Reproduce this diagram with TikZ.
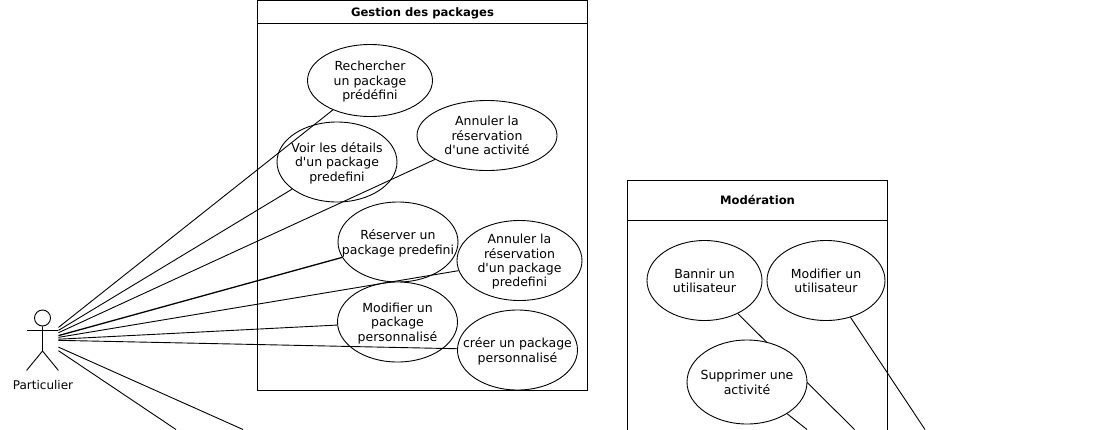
\documentclass[tikz,border=0pt]{standalone}
\usepackage{fontspec}
\setmainfont{DejaVu Sans}
\usetikzlibrary{shapes.geometric}
\newcommand{\cas}[1]{\raisebox{-5pt}[0pt][0pt]{\makebox[0pt]{\begin{tabular}{@{}c@{}}#1\end{tabular}}}}
\tikzset{
  usecase/.style={ellipse,draw,fill=white,inner sep=0pt,minimum width=120pt,minimum height=80pt,font=\fontsize{12.5}{14.4}\selectfont},
  boite/.style={rectangle,draw,inner sep=0pt},
  titre/.style={boite,text height=8pt,text depth=0pt,font=\fontsize{11.6}{14}\selectfont\bfseries}
}
\begin{document}
\begin{tikzpicture}[x=1pt,y=-1pt,line width=0.9pt,font=\fontsize{12}{14}\selectfont]
\useasboundingbox (0,0) rectangle (1109,429);
\clip (0,0) rectangle (1109,429);
\node [boite,minimum width=330pt,minimum height=390pt] (gestion) at (422.5,195.5) {};
\node [titre,minimum width=330pt,minimum height=23pt,anchor=north] (gestionTitre) at (gestion.north) {Gestion des packages};
\node [usecase,minimum width=125pt,minimum height=72pt] (rechercher) at (370,80.5) {\cas{Rechercher\\un package\\prédéfini}};
\node [usecase] (voir) at (337,162) {\cas{Voir les détails\\d\textquotesingle un package\\predefini}};
\node [usecase,minimum width=140pt,minimum height=70pt] (annulerActivite) at (487,135.5) {\cas{Annuler la\\réservation\\d\textquotesingle une activité}};
\node [usecase] (reserver) at (398,242) {\cas{Réserver un\\package predefini}};
\node [usecase,minimum width=125pt] (annulerPackage) at (519.5,260.5) {\cas{Annuler la\\réservation\\d\textquotesingle un package\\predefini}};
\node [usecase] (modifierPackage) at (397.5,322) {\cas{Modifier un\\package\\personnalisé}};
\node [usecase] (creer) at (517.5,350) {\cas{créer un package\\personnalisé}};

\node [rectangle,inner sep=0pt,minimum width=31pt,minimum height=60pt] (particulier) at (42.5,340) {};
\node [circle,draw,inner sep=0pt,minimum size=16pt] (tete) at (42.5,318) {};
\node [inner sep=0pt,anchor=north] (particulierNom) at (43,380) {Particulier};
\coordinate (brasG) at (27,330);
\coordinate (brasD) at (58,330);
\coordinate (bassin) at (42.5,351);
\draw (tete) -- (bassin) -- (particulier.south west);
\draw (bassin) -- (particulier.south east);
\draw (brasG) -- (brasD);

\coordinate (sortieA) at (243,429.5);
\coordinate (sortieB) at (176,429.5);
\draw (particulier) -- (rechercher);
\draw (particulier) -- (voir);
\draw (particulier) -- (annulerActivite);
\draw [line width=1.3pt] (particulier) -- (reserver);
\draw (particulier) -- (annulerPackage);
\draw (particulier) -- (modifierPackage);
\draw (particulier) -- (creer);
\draw (particulier) -- (sortieA);
\draw (particulier) -- (sortieB);

\node [boite,minimum width=260pt,minimum height=400pt,anchor=north] (moderation) at (757.5,180) {};
\node [titre,minimum width=260pt,minimum height=40pt,anchor=north] (moderationTitre) at (moderation.north) {Modération};
\node [usecase,minimum width=115pt] (bannir) at (704.5,280.5) {\cas{Bannir un\\utilisateur}};
\node [usecase,minimum width=118pt] (modifierUtilisateur) at (826,280.5) {\cas{Modifier un\\utilisateur}};
\coordinate (sortieC) at (854.5,429.5);
\coordinate (sortieD) at (807,429.5);
\coordinate (sortieE) at (925,429.5);
\draw (bannir) -- (sortieC);
\draw (modifierUtilisateur) -- (sortieE);
\node [usecase,minimum height=84pt] (supprimer) at (747,382) {\cas{Supprimer une\\activité}};
\draw (supprimer) -- (sortieD);
\end{tikzpicture}
\end{document}
